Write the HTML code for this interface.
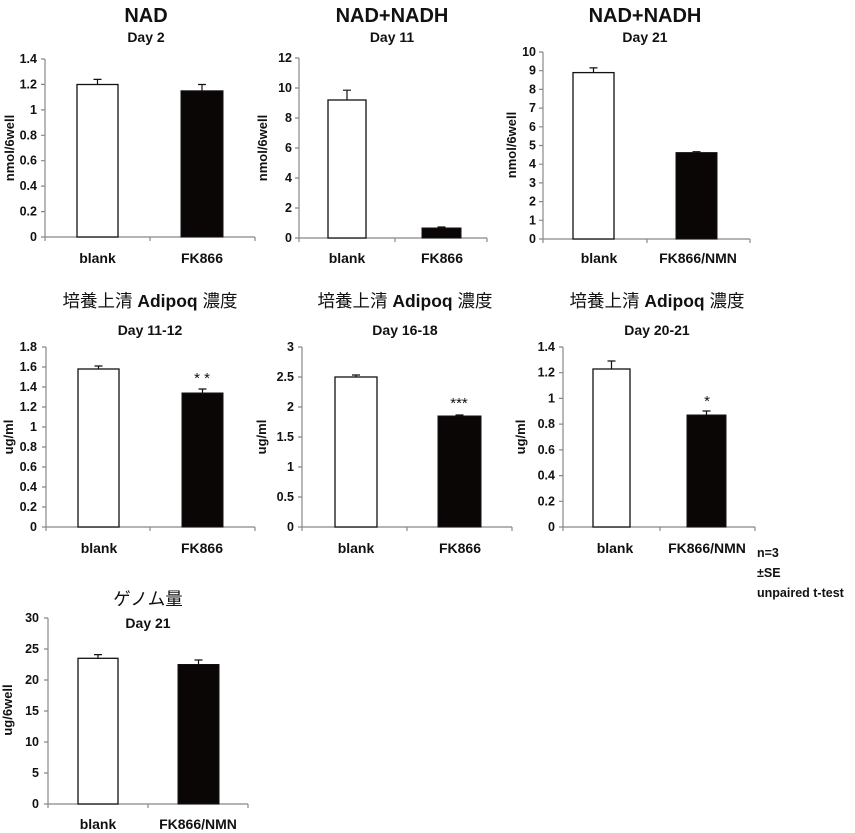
<!DOCTYPE html>
<html><head><meta charset="utf-8"><style>
html,body{margin:0;padding:0;background:#fff;}
svg{display:block;}
text{font-family:"Liberation Sans","Noto Sans CJK JP",sans-serif;font-weight:bold;fill:#111;}
.t{font-size:20px;text-anchor:middle;}
.tj{font-size:17.5px;text-anchor:middle;font-weight:normal;}
.d{font-size:14px;text-anchor:middle;}
.k{font-size:12.5px;text-anchor:end;}
.c{font-size:14px;text-anchor:middle;}
.ax{stroke:#888;stroke-width:1.2;fill:none;}
.wb{fill:#fff;stroke:#111;stroke-width:1.3;}
.bb{fill:#0a0606;stroke:#111;stroke-width:1;}
.er{stroke:#111;stroke-width:1.2;fill:none;}
</style></head><body>
<svg width="855" height="833" viewBox="0 0 855 833">
<!-- Chart 1 -->
<text class="t" x="146" y="22">NAD</text>
<text class="d" x="146" y="42">Day 2</text>
<path class="ax" d="M45 59V237H255M150 237v4M255 237v4M45 237v4M41 237h4M41 211.6h4M41 186.1h4M41 160.7h4M41 135.3h4M41 109.9h4M41 84.4h4M41 59h4"/>
<text class="k" x="37" y="241">0</text><text class="k" x="37" y="215.6">0.2</text><text class="k" x="37" y="190.1">0.4</text><text class="k" x="37" y="164.7">0.6</text><text class="k" x="37" y="139.3">0.8</text><text class="k" x="37" y="113.9">1</text><text class="k" x="37" y="88.4">1.2</text><text class="k" x="37" y="63">1.4</text>
<text class="c" x="14" y="148" transform="rotate(-90 14 148)" style="font-size:13px">nmol/6well</text>
<path class="er" d="M97.5 84.5V79.4M93.5 79.4h8M202 90.8V84.5M198 84.5h8"/>
<rect class="wb" x="77" y="84.5" width="41" height="152.5"/>
<rect class="bb" x="181" y="90.8" width="42" height="146.2"/>
<text class="c" x="97.5" y="263">blank</text><text class="c" x="202" y="263">FK866</text>

<!-- Chart 2 -->
<text class="t" x="392" y="22">NAD+NADH</text>
<text class="d" x="392" y="42">Day 11</text>
<path class="ax" d="M299 58V238H487M395 238v4M487 238v4M299 238v4M295 238h4M295 208h4M295 178h4M295 148h4M295 118h4M295 88h4M295 58h4"/>
<text class="k" x="292" y="242">0</text><text class="k" x="292" y="212">2</text><text class="k" x="292" y="182">4</text><text class="k" x="292" y="152">6</text><text class="k" x="292" y="122">8</text><text class="k" x="292" y="92">10</text><text class="k" x="292" y="62">12</text>
<text class="c" x="267" y="148" transform="rotate(-90 267 148)" style="font-size:13px">nmol/6well</text>
<path class="er" d="M347 100V90.2M343 90.2h8M441.5 228V227M437.5 227h8"/>
<rect class="wb" x="328" y="100" width="38" height="138"/>
<rect class="bb" x="422" y="228" width="39" height="10"/>
<text class="c" x="347" y="263">blank</text><text class="c" x="442" y="263">FK866</text>

<!-- Chart 3 -->
<text class="t" x="645" y="22">NAD+NADH</text>
<text class="d" x="645" y="42">Day 21</text>
<path class="ax" d="M543 52V239H750M647 239v4M750 239v4M543 239v4M539 239h4M539 220.3h4M539 201.6h4M539 182.9h4M539 164.2h4M539 145.5h4M539 126.8h4M539 108.1h4M539 89.4h4M539 70.7h4M539 52h4"/>
<text class="k" x="536" y="243">0</text><text class="k" x="536" y="224.3">1</text><text class="k" x="536" y="205.6">2</text><text class="k" x="536" y="186.9">3</text><text class="k" x="536" y="168.2">4</text><text class="k" x="536" y="149.5">5</text><text class="k" x="536" y="130.8">6</text><text class="k" x="536" y="112.1">7</text><text class="k" x="536" y="93.4">8</text><text class="k" x="536" y="74.7">9</text><text class="k" x="536" y="56">10</text>
<text class="c" x="516" y="145" transform="rotate(-90 516 145)" style="font-size:13px">nmol/6well</text>
<path class="er" d="M593.5 72.6V67.9M589.5 67.9h8M696.5 152.6V151.7M692.5 151.7h8"/>
<rect class="wb" x="573" y="72.6" width="41" height="166.4"/>
<rect class="bb" x="676" y="152.6" width="41" height="86.4"/>
<text class="c" x="599" y="263">blank</text><text class="c" x="698" y="263">FK866/NMN</text>

<!-- Row2 chart1 -->
<text class="tj" x="150" y="307">培養上清 <tspan style="font-weight:bold">Adipoq</tspan> 濃度</text>
<text class="d" x="150" y="335">Day 11-12</text>
<path class="ax" d="M46 347V527H255M150 527v4M255 527v4M46 527v4M42 527h4M42 507h4M42 487h4M42 467h4M42 447h4M42 427h4M42 407h4M42 387h4M42 367h4M42 347h4"/>
<text class="k" x="37" y="531">0</text><text class="k" x="37" y="511">0.2</text><text class="k" x="37" y="491">0.4</text><text class="k" x="37" y="471">0.6</text><text class="k" x="37" y="451">0.8</text><text class="k" x="37" y="431">1</text><text class="k" x="37" y="411">1.2</text><text class="k" x="37" y="391">1.4</text><text class="k" x="37" y="371">1.6</text><text class="k" x="37" y="351">1.8</text>
<text class="c" x="13" y="437" transform="rotate(-90 13 437)" style="font-size:13px">ug/ml</text>
<path class="er" d="M98.5 369V366M94.5 366h8M202.5 393V389M198.5 389h8"/>
<rect class="wb" x="78" y="369" width="41" height="158"/>
<rect class="bb" x="182" y="393" width="41" height="134"/>
<text class="c" x="202" y="383" style="font-weight:normal;font-size:15px">* *</text>
<text class="c" x="99" y="553">blank</text><text class="c" x="202" y="553">FK866</text>

<!-- Row2 chart2 -->
<text class="tj" x="405" y="307">培養上清 <tspan style="font-weight:bold">Adipoq</tspan> 濃度</text>
<text class="d" x="405" y="335">Day 16-18</text>
<path class="ax" d="M302 347V527H512M407 527v4M512 527v4M302 527v4M298 527h4M298 497h4M298 467h4M298 437h4M298 407h4M298 377h4M298 347h4"/>
<text class="k" x="294" y="531">0</text><text class="k" x="294" y="501">0.5</text><text class="k" x="294" y="471">1</text><text class="k" x="294" y="441">1.5</text><text class="k" x="294" y="411">2</text><text class="k" x="294" y="381">2.5</text><text class="k" x="294" y="351">3</text>
<text class="c" x="266" y="437" transform="rotate(-90 266 437)" style="font-size:13px">ug/ml</text>
<path class="er" d="M356 377V375M352 375h8M459.5 416V415M455.5 415h8"/>
<rect class="wb" x="335" y="377" width="42" height="150"/>
<rect class="bb" x="438" y="416" width="43" height="111"/>
<text class="c" x="459" y="408" style="font-weight:normal;font-size:15px">***</text>
<text class="c" x="356" y="553">blank</text><text class="c" x="460" y="553">FK866</text>

<!-- Row2 chart3 -->
<text class="tj" x="657" y="307">培養上清 <tspan style="font-weight:bold">Adipoq</tspan> 濃度</text>
<text class="d" x="657" y="335">Day 20-21</text>
<path class="ax" d="M563 347V527H755M660 527v4M755 527v4M563 527v4M559 527h4M559 501.3h4M559 475.6h4M559 449.9h4M559 424.1h4M559 398.4h4M559 372.7h4M559 347h4"/>
<text class="k" x="555" y="531">0</text><text class="k" x="555" y="505.3">0.2</text><text class="k" x="555" y="479.6">0.4</text><text class="k" x="555" y="453.9">0.6</text><text class="k" x="555" y="428.1">0.8</text><text class="k" x="555" y="402.4">1</text><text class="k" x="555" y="376.7">1.2</text><text class="k" x="555" y="351">1.4</text>
<text class="c" x="525" y="437" transform="rotate(-90 525 437)" style="font-size:13px">ug/ml</text>
<path class="er" d="M611.5 369V361M607.5 361h8M706.5 415V411M702.5 411h8"/>
<rect class="wb" x="593" y="369" width="37" height="158"/>
<rect class="bb" x="687" y="415" width="39" height="112"/>
<text class="c" x="707" y="406" style="font-weight:normal;font-size:15px">*</text>
<text class="c" x="615" y="553">blank</text><text class="c" x="707" y="553">FK866/NMN</text>
<text x="757" y="557" style="font-size:12.5px">n=3</text>
<text x="757" y="577" style="font-size:12.5px">±SE</text>
<text x="757" y="597" style="font-size:12.5px">unpaired t-test</text>

<!-- Row3 -->
<text class="tj" x="148" y="605">ゲノム量</text>
<text class="d" x="148" y="628">Day 21</text>
<path class="ax" d="M48 618V804H248M148 804v4M248 804v4M48 804v4M44 804h4M44 773h4M44 742h4M44 711h4M44 680h4M44 649h4M44 618h4"/>
<text class="k" x="39" y="808">0</text><text class="k" x="39" y="777">5</text><text class="k" x="39" y="746">10</text><text class="k" x="39" y="715">15</text><text class="k" x="39" y="684">20</text><text class="k" x="39" y="653">25</text><text class="k" x="39" y="622">30</text>
<text class="c" x="12" y="710" transform="rotate(-90 12 710)" style="font-size:13px">ug/6well</text>
<path class="er" d="M98 658.3V654.6M94 654.6h8M198.5 664.5V660M194.5 660h8"/>
<rect class="wb" x="78" y="658.3" width="40" height="145.7"/>
<rect class="bb" x="178" y="664.5" width="41" height="139.5"/>
<text class="c" x="98" y="829">blank</text><text class="c" x="198" y="829">FK866/NMN</text>
</svg>
</body></html>
